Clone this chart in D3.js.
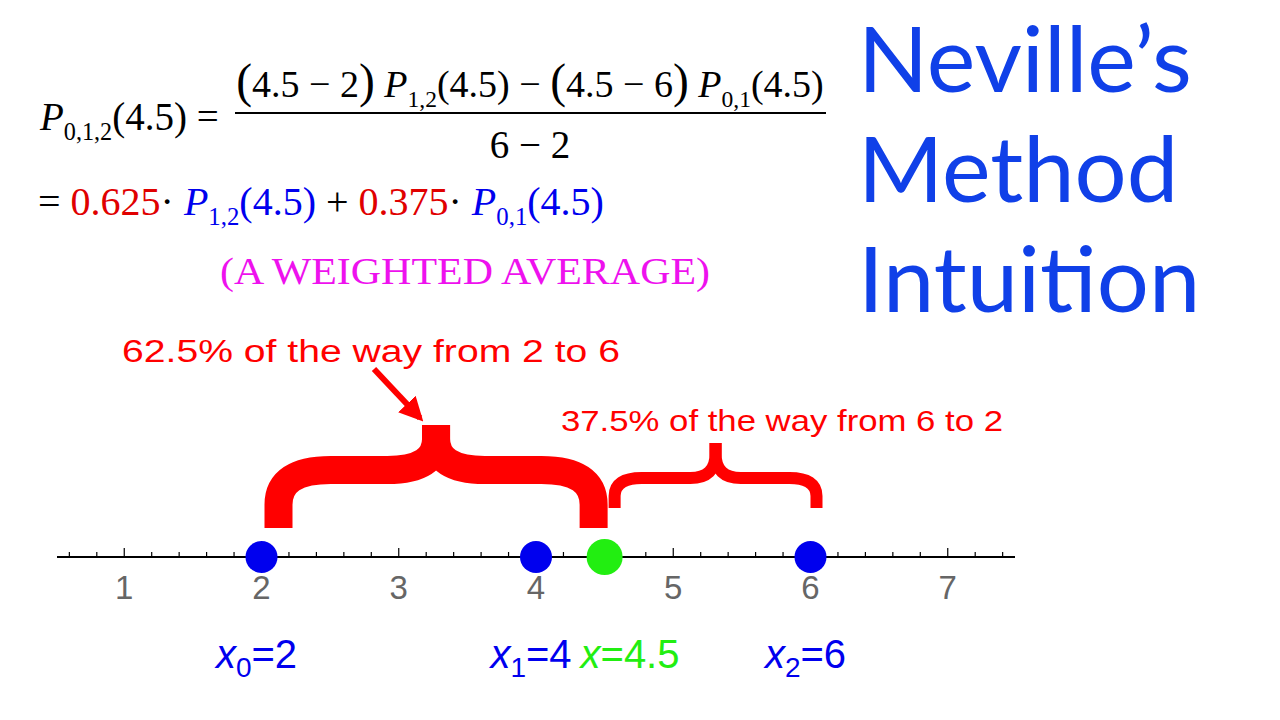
<!DOCTYPE html>
<html><head><meta charset="utf-8">
<script src="https://cdn.jsdelivr.net/npm/d3@7"></script>
<style>body{margin:0;background:#fff}</style></head>
<body><svg id="c" width="1280" height="720"></svg>
<script>
const domain=[0.51,7.49];
const majorTicks=[1,2,3,4,5,6,7];
const nodes=[{x:2,label:"x",sub:"0",val:"2"},{x:4,label:"x",sub:"1",val:"4"},{x:6,label:"x",sub:"2",val:"6"}];
const target=4.5;
const weights=["0.625","0.375"];
const svg=d3.select("#c");
const x=d3.scaleLinear().domain(domain).range([57,1015]);
const ay=557;
const blue="#0000ee",red="#ff0000",green="#22ee11";
svg.append("line").attr("x1",x.range()[0]).attr("x2",x.range()[1]).attr("y1",ay).attr("y2",ay).attr("stroke","#000").attr("stroke-width",2);
const minor=d3.range(0.6,7.45,0.2);
svg.selectAll(".mt").data(minor).join("line").attr("x1",d=>x(d)).attr("x2",d=>x(d)).attr("y1",ay).attr("y2",d=>Math.abs(d-Math.round(d))<0.01?ay-9:ay-5).attr("stroke","#000").attr("stroke-width",1.2);
svg.selectAll(".tl").data(majorTicks).join("text").attr("x",d=>x(d)).attr("y",599).attr("text-anchor","middle").attr("font-family","Liberation Sans").attr("font-size",33).attr("fill","#666").text(d=>d);
function brace(x0,x1,bottom,mid,top,sw){
 const xm=(x0+x1)/2;
 const r=Math.min(35,(bottom-mid)*0.6);
 const left=`M${x0},${bottom} L${x0},${mid+r} Q${x0},${mid} ${x0+r*1.5},${mid} L${xm-r*1.4},${mid} Q${xm},${mid} ${xm},${top+(mid-top)*0.3} L${xm},${top}`;
 const right=`M${xm},${top} L${xm},${top+(mid-top)*0.3} Q${xm},${mid} ${xm+r*1.4},${mid} L${x1-r*1.5},${mid} Q${x1},${mid} ${x1},${mid+r} L${x1},${bottom}`;
 [left,right].forEach(p=>svg.append("path").attr("d",p).attr("fill","none").attr("stroke",red).attr("stroke-width",sw).attr("stroke-linecap","butt").attr("stroke-linejoin","round"));
}
brace(x(2)+17,x(target)-11,528,470,425,28);
brace(x(target)+10,x(6)+6,508,478,443,12);
const defs=svg.append("defs");
defs.append("marker").attr("id","ah").attr("viewBox","0 0 10 10").attr("refX",8).attr("refY",5).attr("markerWidth",4).attr("markerHeight",4).attr("orient","auto").append("path").attr("d","M0,0 L10,5 L0,10 z").attr("fill",red);
svg.append("line").attr("x1",374).attr("x2",420).attr("y1",369).attr("y2",418).attr("stroke",red).attr("stroke-width",6).attr("marker-end","url(#ah)");
svg.append("text").attr("x",122).attr("y",362).attr("font-family","Liberation Sans").attr("font-size",31).attr("textLength",498).attr("lengthAdjust","spacingAndGlyphs").attr("fill",red).text("62.5% of the way from 2 to 6");
svg.append("text").attr("x",561).attr("y",431).attr("font-family","Liberation Sans").attr("font-size",29).attr("textLength",442).attr("lengthAdjust","spacingAndGlyphs").attr("fill",red).text("37.5% of the way from 6 to 2");
svg.selectAll(".pt").data(nodes).join("circle").attr("cx",d=>x(d.x)).attr("cy",ay).attr("r",16).attr("fill",blue);
svg.append("circle").attr("cx",x(target)).attr("cy",ay).attr("r",18).attr("fill",green);
const labs=svg.selectAll(".nl").data(nodes).join("text").attr("x",d=>x(d.x)-5).attr("y",668).attr("text-anchor","middle").attr("font-family","Liberation Sans").attr("font-size",40).attr("fill",blue);
labs.append("tspan").attr("font-style","italic").text(d=>d.label);
labs.append("tspan").attr("font-size",28).attr("dy",9).text(d=>d.sub);
labs.append("tspan").attr("dy",-9).text(d=>"="+d.val);
svg.append("text").attr("x",630).attr("y",668).attr("text-anchor","middle").attr("font-family","Liberation Sans").attr("font-size",40).attr("fill",green).html('<tspan font-style="italic">x</tspan>=4.5');
const tb="#1040e8";
["Neville’s","Method","Intuition"].forEach((t,i)=>svg.append("text").attr("x",858).attr("y",92+i*110).attr("font-family","Lato").attr("font-size",92).attr("fill",tb).text(t));
const F="Liberation Serif";
function mtext(xp,yp,parts,size,anchor){
 const t=svg.append("text").attr("x",xp).attr("y",yp).attr("font-family",F).attr("font-size",size).attr("text-anchor",anchor||"start");
 parts.forEach(p=>{const s=t.append("tspan").attr("fill",p.c||"#000").text(p.t);
  if(p.i)s.attr("font-style","italic");
  if(p.sub){s.attr("font-size",size*0.62).attr("dy",size*0.25);} if(p.up){s.attr("dy",-size*0.25);} if(p.big)s.attr("font-size",size*1.25);});
 return t;}
mtext(40,130,[{t:"P",i:1},{t:"0,1,2",sub:1},{t:"(4.5) =",up:1}],39);
svg.append("line").attr("x1",235).attr("x2",826).attr("y1",113).attr("y2",113).attr("stroke","#000").attr("stroke-width",2);
mtext(530,97,[{t:"(",big:1},{t:"4.5 − 2"},{t:")",big:1},{t:" P",i:1},{t:"1,2",sub:1},{t:"(4.5) − ",up:1},{t:"(",big:1},{t:"4.5 − 6"},{t:")",big:1},{t:" P",i:1},{t:"0,1",sub:1},{t:"(4.5)",up:1}],38,"middle");
mtext(530,158,[{t:"6 − 2"}],39,"middle");
mtext(38,215,[{t:"= "},{t:weights[0],c:"#e00000"},{t:"·",},{t:" P",i:1,c:blue},{t:"1,2",sub:1,c:blue},{t:"(4.5)",up:1,c:blue},{t:" + "},{t:weights[1],c:"#e00000"},{t:"·"},{t:" P",i:1,c:blue},{t:"0,1",sub:1,c:blue},{t:"(4.5)",up:1,c:blue}],40);
svg.append("text").attr("x",465).attr("y",284).attr("text-anchor","middle").attr("font-family",F).attr("font-size",38).attr("textLength",490).attr("lengthAdjust","spacingAndGlyphs").attr("fill","#ee11ee").text("(A WEIGHTED AVERAGE)");
</script></body></html>
